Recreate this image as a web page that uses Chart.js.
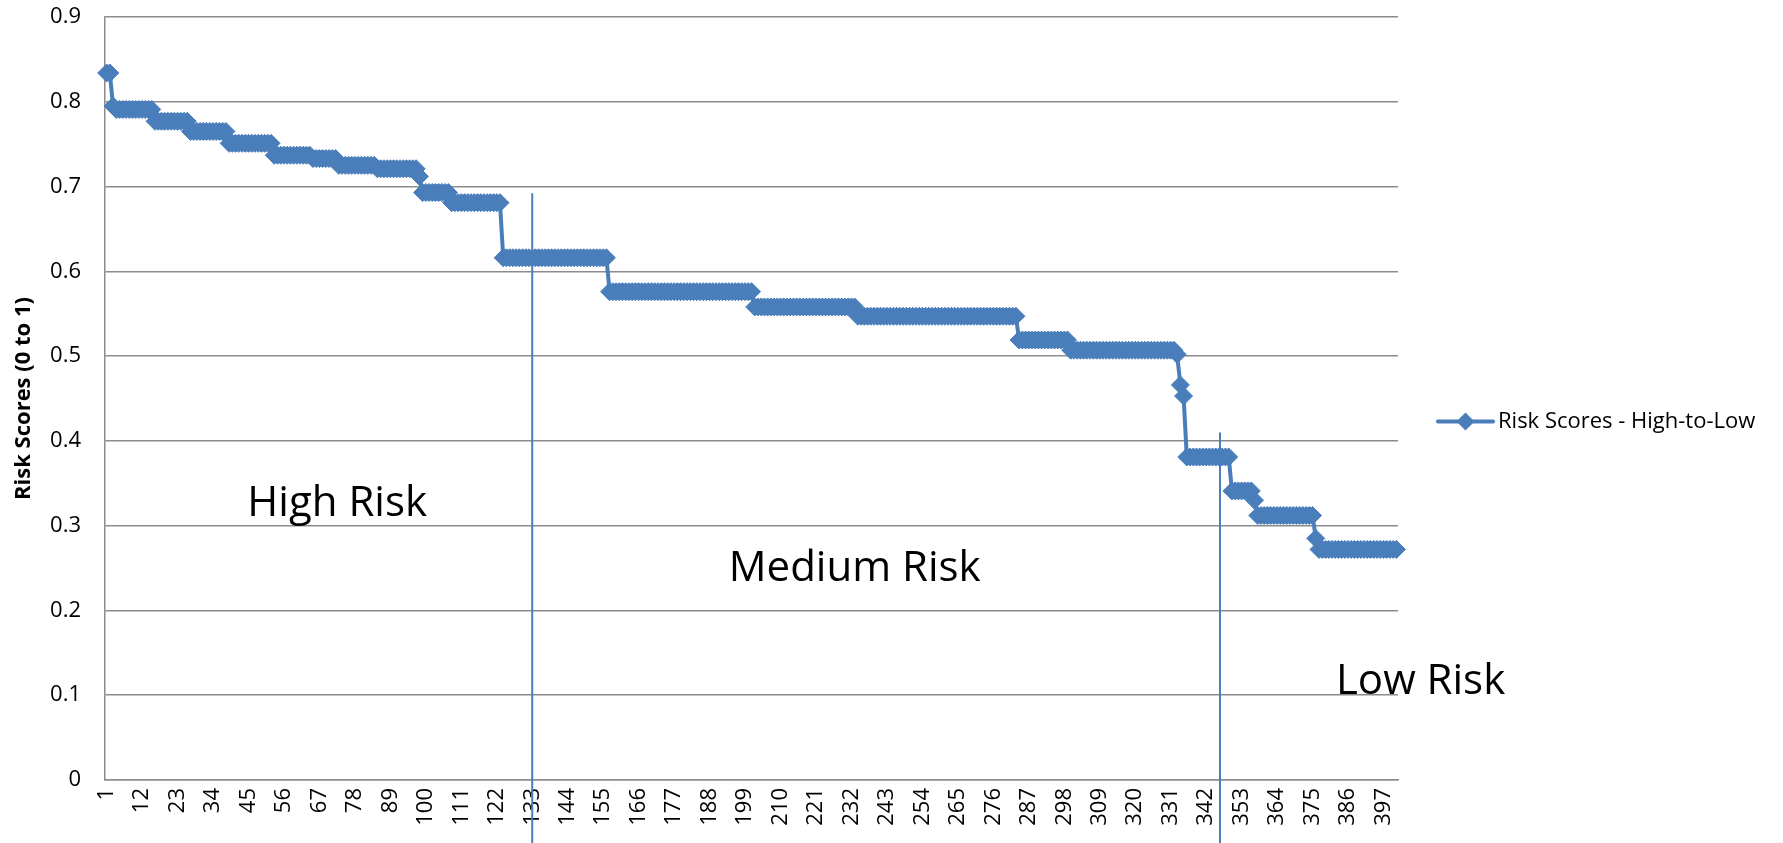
<!DOCTYPE html>
<html lang="en">
<head>
<meta charset="UTF-8">
<title>Risk Scores - High-to-Low</title>
<style>
  html, body { margin: 0; padding: 0; background: #fff; overflow: hidden; }
  .container { width: 1783px; height: 843px; }
</style>
</head>
<body>
<div class="container"><canvas id="riskChart"></canvas></div>
<script src="https://cdn.jsdelivr.net/npm/chart.js@4.4.1/dist/chart.umd.min.js"></script>
<script>
// risk scores, sorted high to low, one per record
const riskScores = [
  0.834, 0.834, 0.795,
  0.791, 0.791, 0.791, 0.791, 0.791, 0.791,
  0.791, 0.791, 0.791, 0.791, 0.791, 0.791,
  0.777, 0.777, 0.777, 0.777, 0.777, 0.777,
  0.777, 0.777, 0.777, 0.777, 0.777,
  0.765, 0.765, 0.765, 0.765, 0.765, 0.765,
  0.765, 0.765, 0.765, 0.765, 0.765, 0.765,
  0.751, 0.751, 0.751, 0.751, 0.751, 0.751, 0.751,
  0.751, 0.751, 0.751, 0.751, 0.751, 0.751, 0.751,
  0.737, 0.737, 0.737, 0.737, 0.737, 0.737,
  0.737, 0.737, 0.737, 0.737, 0.737, 0.737,
  0.733, 0.733, 0.733, 0.733, 0.733, 0.733, 0.733, 0.733,
  0.725, 0.725, 0.725, 0.725, 0.725, 0.725,
  0.725, 0.725, 0.725, 0.725, 0.725, 0.725,
  0.721, 0.721, 0.721, 0.721, 0.721, 0.721, 0.721,
  0.721, 0.721, 0.721, 0.721, 0.721, 0.721,
  0.712,
  0.693, 0.693, 0.693, 0.693, 0.693, 0.693, 0.693, 0.693, 0.693,
  0.681, 0.681, 0.681, 0.681, 0.681, 0.681, 0.681, 0.681,
  0.681, 0.681, 0.681, 0.681, 0.681, 0.681, 0.681, 0.681,
  0.616, 0.616, 0.616, 0.616, 0.616, 0.616, 0.616, 0.616, 0.616, 0.616, 0.616,
  0.616, 0.616, 0.616, 0.616, 0.616, 0.616, 0.616, 0.616, 0.616, 0.616, 0.616,
  0.616, 0.616, 0.616, 0.616, 0.616, 0.616, 0.616, 0.616, 0.616, 0.616, 0.616,
  0.576, 0.576, 0.576, 0.576, 0.576, 0.576, 0.576, 0.576, 0.576, 0.576, 0.576, 0.576, 0.576, 0.576, 0.576,
  0.576, 0.576, 0.576, 0.576, 0.576, 0.576, 0.576, 0.576, 0.576, 0.576, 0.576, 0.576, 0.576, 0.576, 0.576,
  0.576, 0.576, 0.576, 0.576, 0.576, 0.576, 0.576, 0.576, 0.576, 0.576, 0.576, 0.576, 0.576, 0.576, 0.576,
  0.558, 0.558, 0.558, 0.558, 0.558, 0.558, 0.558, 0.558, 0.558, 0.558, 0.558, 0.558, 0.558, 0.558, 0.558, 0.558,
  0.558, 0.558, 0.558, 0.558, 0.558, 0.558, 0.558, 0.558, 0.558, 0.558, 0.558, 0.558, 0.558, 0.558, 0.558, 0.558,
  0.547, 0.547, 0.547, 0.547, 0.547, 0.547, 0.547, 0.547, 0.547, 0.547,
  0.547, 0.547, 0.547, 0.547, 0.547, 0.547, 0.547, 0.547, 0.547, 0.547,
  0.547, 0.547, 0.547, 0.547, 0.547, 0.547, 0.547, 0.547, 0.547, 0.547,
  0.547, 0.547, 0.547, 0.547, 0.547, 0.547, 0.547, 0.547, 0.547, 0.547,
  0.547, 0.547, 0.547, 0.547, 0.547, 0.547, 0.547, 0.547, 0.547, 0.547,
  0.519, 0.519, 0.519, 0.519, 0.519, 0.519, 0.519, 0.519,
  0.519, 0.519, 0.519, 0.519, 0.519, 0.519, 0.519, 0.519,
  0.507, 0.507, 0.507, 0.507, 0.507, 0.507, 0.507, 0.507, 0.507, 0.507, 0.507,
  0.507, 0.507, 0.507, 0.507, 0.507, 0.507, 0.507, 0.507, 0.507, 0.507, 0.507,
  0.507, 0.507, 0.507, 0.507, 0.507, 0.507, 0.507, 0.507, 0.507, 0.507, 0.507,
  0.502, 0.466, 0.453,
  0.381, 0.381, 0.381, 0.381, 0.381, 0.381, 0.381,
  0.381, 0.381, 0.381, 0.381, 0.381, 0.381, 0.381,
  0.341, 0.341, 0.341, 0.341, 0.341, 0.341, 0.341,
  0.330,
  0.312, 0.312, 0.312, 0.312, 0.312, 0.312, 0.312, 0.312, 0.312,
  0.312, 0.312, 0.312, 0.312, 0.312, 0.312, 0.312, 0.312, 0.312,
  0.285,
  0.272, 0.272, 0.272, 0.272, 0.272,
  0.272, 0.272, 0.272, 0.272, 0.272,
  0.272, 0.272, 0.272, 0.272, 0.272,
  0.272, 0.272, 0.272, 0.272, 0.272,
  0.272, 0.272, 0.272, 0.272, 0.272
];

// record numbers 1..n on the category axis
const categories = riskScores.map((v, i) => i + 1);

// only every 11th record number is printed under the axis
const xTickLabels = [1, 12, 23, 34, 45, 56, 67, 78, 89, 100, 111, 122, 133, 144, 155, 166, 177, 188,
  199, 210, 221, 232, 243, 254, 265, 276, 287, 298, 309, 320, 331, 342, 353, 364, 375, 386, 397];

const seriesName = 'Risk Scores - High-to-Low';
const yTitle = 'Risk Scores (0 to 1)';

// zone markers drawn over the plot
const zoneNames = ['High Risk', 'Medium Risk', 'Low Risk'];
const zoneTextAt = [[72.5, 0.326], [233, 0.249], [408.5, 0.116]];   // [record, score]
const zoneDividers = [133, 346.3];
const zoneDividerTops = [0.692, 0.41];

const blue = '#4a7ebb';
const gridGray = '#8c8c8c';
const fontFamily = '"Open Sans", "Noto Sans", sans-serif';

const riskZonePlugin = {
  id: 'riskZones',
  afterDatasetsDraw(chart) {
    const ctx = chart.ctx;
    const x = chart.scales.x, y = chart.scales.y;
    ctx.save();
    ctx.strokeStyle = blue;
    ctx.lineWidth = 2;
    zoneDividers.forEach((rec, k) => {
      const px = x.getPixelForValue(rec - 1);
      ctx.beginPath();
      ctx.moveTo(px, y.getPixelForValue(zoneDividerTops[k]));
      ctx.lineTo(px, chart.height);
      ctx.stroke();
    });
    ctx.fillStyle = '#000';
    ctx.font = '42px ' + fontFamily;
    ctx.textAlign = 'center';
    ctx.textBaseline = 'middle';
    zoneNames.forEach((name, k) => {
      ctx.fillText(name, x.getPixelForValue(zoneTextAt[k][0] - 1), y.getPixelForValue(zoneTextAt[k][1]));
    });
    ctx.restore();
  }
};

// legend entry: line with a diamond marker, like the series
const seriesKeyPlugin = {
  id: 'seriesKey',
  afterDraw(chart) {
    const ctx = chart.ctx;
    const area = chart.chartArea;
    const y = chart.height / 2;
    const x0 = area.right + 40, x1 = area.right + 95, xm = (x0 + x1) / 2;
    ctx.save();
    ctx.strokeStyle = blue;
    ctx.lineWidth = 4;
    ctx.lineCap = 'round';
    ctx.beginPath();
    ctx.moveTo(x0, y);
    ctx.lineTo(x1, y);
    ctx.stroke();
    ctx.fillStyle = blue;
    ctx.beginPath();
    ctx.moveTo(xm - 9, y);
    ctx.lineTo(xm, y - 9);
    ctx.lineTo(xm + 9, y);
    ctx.lineTo(xm, y + 9);
    ctx.closePath();
    ctx.fill();
    ctx.fillStyle = '#000';
    ctx.font = '22px ' + fontFamily;
    ctx.textBaseline = 'middle';
    ctx.fillText(seriesName, x1 + 5, y);
    ctx.restore();
  }
};

new Chart(document.getElementById('riskChart'), {
  type: 'line',
  data: {
    labels: categories,
    datasets: [{
      label: seriesName,
      data: riskScores,
      borderColor: blue,
      backgroundColor: blue,
      borderWidth: 4,
      tension: 0,
      fill: false,
      pointStyle: 'rectRot',
      pointRadius: 9,
      pointBorderWidth: 1,
      pointBackgroundColor: blue,
      pointBorderColor: blue
    }]
  },
  options: {
    responsive: true,
    maintainAspectRatio: false,
    animation: false,
    layout: { padding: { top: 17, right: 385, bottom: 0, left: 0 } },
    plugins: {
      legend: { display: false },
      tooltip: { enabled: false }
    },
    scales: {
      x: {
        type: 'category',
        offset: true,
        grid: { display: true, drawOnChartArea: false, drawTicks: false },
        border: { color: gridGray, width: 1.5 },
        ticks: {
          autoSkip: false,
          minRotation: 90,
          maxRotation: 90,
          padding: 8,
          color: '#000',
          font: { family: fontFamily, size: 22 },
          callback: function (val, i) {
            return xTickLabels.includes(categories[i]) ? String(categories[i]) : '';
          }
        },
        afterFit: function (scale) { scale.height = 63; }
      },
      y: {
        min: 0,
        max: 0.9,
        ticks: {
          stepSize: 0.1,
          padding: 3,
          color: '#000',
          font: { family: fontFamily, size: 22 }
        },
        grid: { color: gridGray, lineWidth: 1.5, drawTicks: true, tickLength: 21, tickColor: 'rgba(0,0,0,0)' },
        border: { color: gridGray, width: 1.5 },
        title: {
          display: true,
          text: yTitle,
          color: '#000',
          font: { family: fontFamily, size: 22, weight: 'bold' },
          padding: { top: 11, bottom: 0 }
        },
        afterFit: function (scale) { scale.width = 105; }
      }
    }
  },
  plugins: [riskZonePlugin, seriesKeyPlugin]
});
</script>
</body>
</html>
